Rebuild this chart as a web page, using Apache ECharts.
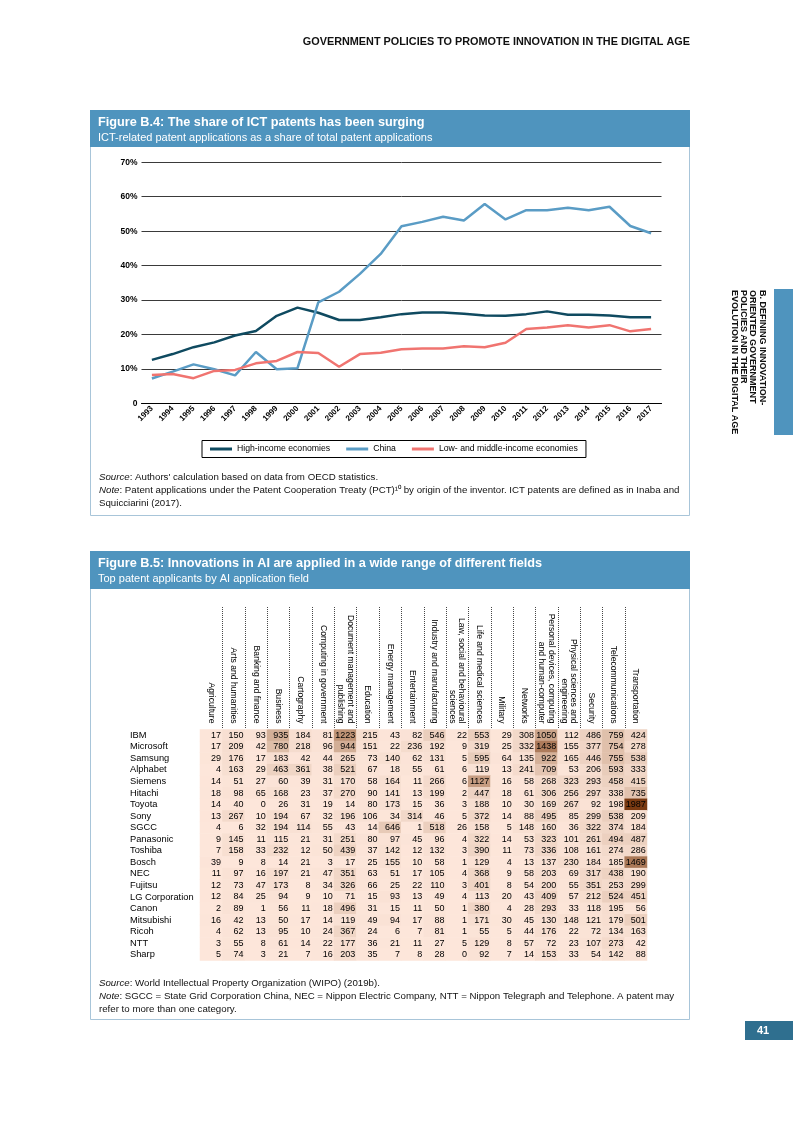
<!DOCTYPE html>
<html><head><meta charset="utf-8">
<script src="https://cdn.jsdelivr.net/npm/echarts@6/dist/echarts.min.js"></script>
<style>html,body{margin:0;padding:0;background:#fff}#c{width:793px;height:1122px}</style>
</head><body><div id="c"></div>
<script>
// ---------- Figure B.4 data ----------
const years = ['1993','1994','1995','1996','1997','1998','1999','2000','2001','2002','2003','2004','2005','2006','2007','2008','2009','2010','2011','2012','2013','2014','2015','2016','2017'];
const highIncome = [12.6,14.3,16.3,17.7,19.7,21.0,25.4,27.8,26.3,24.2,24.2,25.0,25.9,26.4,26.4,26.0,25.5,25.4,25.9,26.7,25.7,25.7,25.5,25.0,25.0];
const china = [7.2,9.2,11.3,9.9,8.1,14.9,9.9,10.2,29.3,32.4,37.6,43.4,51.4,52.7,54.2,53.1,57.9,53.4,56.1,56.1,56.8,56.1,57.1,51.5,49.4];
const lowMiddle = [8.2,8.5,7.3,9.4,9.7,11.6,12.3,14.9,14.6,10.6,14.3,14.7,15.7,15.9,15.9,16.6,16.3,17.6,21.6,22.0,22.7,22.0,22.7,20.9,21.6];
const seriesNames = ['High-income economies','China','Low- and middle-income economies'];

// ---------- Figure B.5 data ----------
const fields = ['Agriculture','Arts and humanities','Banking and finance','Business','Cartography','Computing in government','Document management and\npublishing','Education','Energy management','Entertainment','Industry and manufacturing','Law, social and behavioural\nsciences','Life and medical sciences','Military','Networks','Personal devices, computing\nand human-computer','Physical sciences and\nengineering','Security','Telecommunications','Transportation'];
const companies = ['IBM','Microsoft','Samsung','Alphabet','Siemens','Hitachi','Toyota','Sony','SGCC','Panasonic','Toshiba','Bosch','NEC','Fujitsu','LG Corporation','Canon','Mitsubishi','Ricoh','NTT','Sharp'];
const patents = [
  [17,150,93,935,184,81,1223,215,43,82,546,22,553,29,308,1050,112,486,759,424],
  [17,209,42,780,218,96,944,151,22,236,192,9,319,25,332,1438,155,377,754,278],
  [29,176,17,183,42,44,265,73,140,62,131,5,595,64,135,922,165,446,755,538],
  [4,163,29,463,361,38,521,67,18,55,61,6,119,13,241,709,53,206,593,333],
  [14,51,27,60,39,31,170,58,164,11,266,6,1127,16,58,268,323,293,458,415],
  [18,98,65,168,23,37,270,90,141,13,199,2,447,18,61,306,256,297,338,735],
  [14,40,0,26,31,19,14,80,173,15,36,3,188,10,30,169,267,92,198,1987],
  [13,267,10,194,67,32,196,106,34,314,46,5,372,14,88,495,85,299,538,209],
  [4,6,32,194,114,55,43,14,646,1,518,26,158,5,148,160,36,322,374,184],
  [9,145,11,115,21,31,251,80,97,45,96,4,322,14,53,323,101,261,494,487],
  [7,158,33,232,12,50,439,37,142,12,132,3,390,11,73,336,108,161,274,286],
  [39,9,8,14,21,3,17,25,155,10,58,1,129,4,13,137,230,184,185,1469],
  [11,97,16,197,21,47,351,63,51,17,105,4,368,9,58,203,69,317,438,190],
  [12,73,47,173,8,34,326,66,25,22,110,3,401,8,54,200,55,351,253,299],
  [12,84,25,94,9,10,71,15,93,13,49,4,113,20,43,409,57,212,524,451],
  [2,89,1,56,11,18,496,31,15,11,50,1,380,4,28,293,33,118,195,56],
  [16,42,13,50,17,14,119,49,94,17,88,1,171,30,45,130,148,121,179,501],
  [4,62,13,95,10,24,367,24,6,7,81,1,55,5,44,176,22,72,134,163],
  [3,55,8,61,14,22,177,36,21,11,27,5,129,8,57,72,23,107,273,42],
  [5,74,3,21,7,16,203,35,7,8,28,0,92,7,14,153,33,54,142,88]
];

const FF = '"Liberation Sans", Arial, Helvetica, sans-serif';
const heatData = [];
patents.forEach((row, r) => row.forEach((v, c) => heatData.push([c, r, v])));
const maxVal = Math.max(...patents.map(r => Math.max(...r)));

const chart = echarts.init(document.getElementById('c'), null, {renderer: 'canvas'});

const option = {
  animation: false,
  backgroundColor: '#fff',
  textStyle: {fontFamily: FF},
  grid: [
    {left: 141.5, top: 162.3, width: 520, height: 241},
    {left: 200, top: 729.5, width: 447, height: 231}
  ],
  legend: {
    left: 202, top: 440.5, icon: 'rect', itemWidth: 22, itemHeight: 3, itemGap: 16,
    padding: [4, 8], borderColor: '#000', borderWidth: 1,
    textStyle: {fontSize: 8.7, color: '#000', fontFamily: FF},
    data: seriesNames
  },
  xAxis: [
    {gridIndex: 0, type: 'category', data: years, boundaryGap: true,
     axisLine: {lineStyle: {color: '#000', width: 1}}, axisTick: {show: false},
     axisLabel: {rotate: 45, interval: 0, fontSize: 8, fontWeight: 'bold', color: '#000', margin: 4, fontFamily: FF}},
    {gridIndex: 1, type: 'category', data: fields, position: 'top',
     axisLine: {show: false}, axisTick: {show: false}, splitLine: {show: false},
     axisLabel: {rotate: 90, interval: 0, fontSize: 8.6, lineHeight: 9.2, color: '#000', margin: 6, fontFamily: FF}}
  ],
  yAxis: [
    {gridIndex: 0, type: 'value', min: 0, max: 70, interval: 10,
     axisLine: {show: false}, axisTick: {show: false},
     axisLabel: {formatter: v => v === 0 ? '0' : v + '%', fontSize: 8.5, fontWeight: 'bold', color: '#000', margin: 4, fontFamily: FF},
     splitLine: {lineStyle: {color: '#3a3a3a', width: 1}}},
    {gridIndex: 1, type: 'category', data: companies, inverse: true,
     axisLine: {show: false}, axisTick: {show: false}, splitLine: {show: false},
     axisLabel: {interval: 0, align: 'left', margin: 70, fontSize: 9.3, color: '#000', fontFamily: FF}}
  ],
  visualMap: {show: false, type: 'continuous', seriesIndex: 3, min: 0, max: maxVal,
    inRange: {color: ['#fde6da', '#e6c9b6', '#b8896a', '#7a3a12']}},
  series: [
    {name: seriesNames[0], type: 'line', xAxisIndex: 0, yAxisIndex: 0, data: highIncome, showSymbol: false, symbol: 'none',
     lineStyle: {color: '#0f4a60', width: 2.5}, itemStyle: {color: '#0f4a60'}},
    {name: seriesNames[1], type: 'line', xAxisIndex: 0, yAxisIndex: 0, data: china, showSymbol: false, symbol: 'none',
     lineStyle: {color: '#5a9cc5', width: 2.5}, itemStyle: {color: '#5a9cc5'}},
    {name: seriesNames[2], type: 'line', xAxisIndex: 0, yAxisIndex: 0, data: lowMiddle, showSymbol: false, symbol: 'none',
     lineStyle: {color: '#f07470', width: 2.5}, itemStyle: {color: '#f07470'}},
    {name: 'AI patents', type: 'heatmap', xAxisIndex: 1, yAxisIndex: 1, data: heatData,
     emphasis: {disabled: true},
     label: {show: true, position: 'insideRight', distance: 1.5, fontSize: 9, color: '#000', fontFamily: FF}}
  ]
};
chart.setOption(option);

// ---------- page decorations ----------
const g = [];
function txt(x, y, text, font, opts) {
  g.push(Object.assign({type: 'text', x: x, y: y, silent: true,
    style: Object.assign({text: text, font: font, fill: '#000', align: 'left', verticalAlign: 'middle'}, opts || {})}));
}
// running head
txt(690, 42, 'GOVERNMENT POLICIES TO PROMOTE INNOVATION IN THE DIGITAL AGE', 'bold 10.85px ' + FF, {align: 'right', fill: '#111'});
// side tab
g.push({type: 'rect', shape: {x: 774, y: 289, width: 19, height: 146}, style: {fill: '#4f94be'}, silent: true});
g.push({type: 'text', x: 767, y: 290, rotation: -Math.PI / 2, silent: true,
  style: {text: 'B. DEFINING INNOVATION-\nORIENTED GOVERNMENT\nPOLICIES AND THEIR\nEVOLUTION IN THE DIGITAL AGE',
    font: 'bold 9px ' + FF, lineHeight: 9.4, fill: '#111', align: 'left', verticalAlign: 'top'}});

// boxes
function box(y0, y1, bandH, title, sub) {
  g.push({type: 'rect', shape: {x: 90.5, y: y0 + 0.5, width: 599, height: y1 - y0}, style: {fill: 'none', stroke: '#a8c5d9', lineWidth: 1}, silent: true});
  g.push({type: 'rect', shape: {x: 90, y: y0, width: 600, height: bandH}, style: {fill: '#4f94be'}, silent: true});
  txt(98, y0 + 12.5, title, 'bold 12.7px ' + FF, {fill: '#fff'});
  txt(98, y0 + 28, sub, '11px ' + FF, {fill: '#fff'});
}
box(110, 515, 37, 'Figure B.4: The share of ICT patents has been surging', 'ICT-related patent applications as a share of total patent applications');
box(551, 1019, 38, 'Figure B.5: Innovations in AI are applied in a wide range of different fields', 'Top patent applicants by AI application field');

// notes
const NS = 9.7;
const noteRich = {i: {fontStyle: 'italic', fontSize: NS, fontFamily: FF, fill: '#111'}, n: {fontSize: NS, fontFamily: FF, fill: '#111'}};
function rich(x, y, text) {
  g.push({type: 'text', x: x, y: y, silent: true, style: {text: text, rich: noteRich, fill: '#111', font: NS + 'px ' + FF, align: 'left', verticalAlign: 'middle'}});
}
rich(99, 477, '{i|Source}{n|: Authors\' calculation based on data from OECD statistics.}');
rich(99, 490.5, '{i|Note}{n|: Patent applications under the Patent Cooperation Treaty (PCT)¹⁰ by origin of the inventor. ICT patents are defined as in Inaba and}');
rich(99, 503, '{n|Squicciarini (2017).}');
rich(99, 983, '{i|Source}{n|: World Intellectual Property Organization (WIPO) (2019b).}');
rich(99, 996.5, '{i|Note}{n|: SGCC = State Grid Corporation China, NEC = Nippon Electric Company, NTT = Nippon Telegraph and Telephone. A patent may}');
rich(99, 1009, '{n|refer to more than one category.}');

// page number
g.push({type: 'rect', shape: {x: 745, y: 1021, width: 48, height: 19}, style: {fill: '#2f6f8f'}, silent: true});
txt(757, 1030.5, '41', 'bold 11px ' + FF, {fill: '#fff'});

// dotted column separators in heatmap header (between categories, from the axis scale)
const centers = fields.map((f, i) => chart.convertToPixel({xAxisIndex: 1}, i));
for (let i = 1; i < centers.length; i++) {
  const bx = Math.round((centers[i - 1] + centers[i]) / 2) + 0.5;
  g.push({type: 'line', silent: true, shape: {x1: bx, y1: 607, x2: bx, y2: 729},
    style: {stroke: '#333', lineWidth: 0.9, lineDash: [1, 1]}});
}
chart.setOption({graphic: {elements: g}});
</script>
</body></html>
